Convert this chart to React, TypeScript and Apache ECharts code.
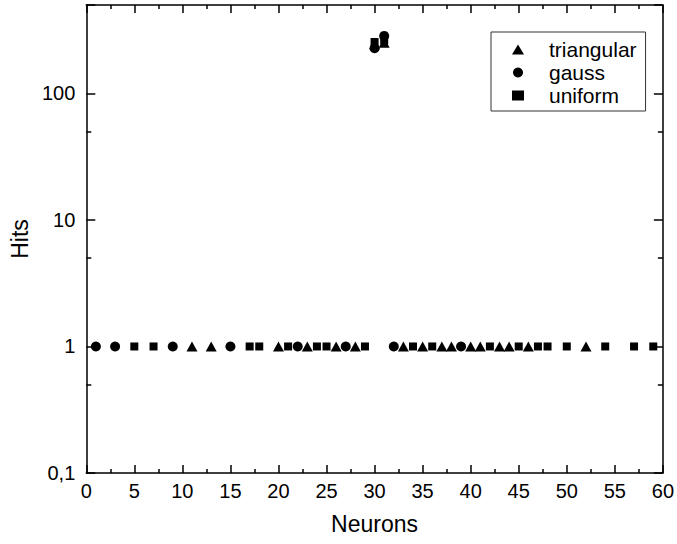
import React, { useEffect, useRef } from "react";
import * as echarts from "echarts";

// Neuron index (x) and hits (y) for each series
const triangularX = [11, 13, 20, 23, 26, 28, 30, 31, 33, 35, 37, 38, 40, 41, 43, 44, 46, 52];
const triangularY = [1, 1, 1, 1, 1, 1, 245, 252, 1, 1, 1, 1, 1, 1, 1, 1, 1, 1];

const gaussX = [1, 3, 9, 15, 22, 27, 30, 31, 32, 39];
const gaussY = [1, 1, 1, 1, 1, 1, 228, 285, 1, 1];

const uniformX = [5, 7, 17, 18, 21, 24, 25, 29, 30, 31, 34, 36, 42, 45, 47, 48, 50, 54, 57, 59];
const uniformY = [1, 1, 1, 1, 1, 1, 1, 1, 255, 262, 1, 1, 1, 1, 1, 1, 1, 1, 1, 1];

const seriesNames = ["triangular", "gauss", "uniform"];
const yMin = 0.1;
const yMax = 500;
const yMinorTicks = [0.5, 5, 50];

const FONT = "'Liberation Sans', Arial, sans-serif";

function pairs(xs: number[], ys: number[]) {
  return xs.map((x, i) => [x, ys[i]]);
}

function fmtLog(v: number) {
  const l = Math.log10(v);
  if (Math.abs(l - Math.round(l)) > 1e-6) return "";
  const r = Number(v.toPrecision(6));
  return String(r).replace(".", ",");
}

export default function App() {
  const ref = useRef<HTMLDivElement>(null);
  useEffect(() => {
    if (!ref.current) return;
    const chart = echarts.init(ref.current, undefined, { renderer: "svg" });
    const lineStyle = { color: "#000", width: 1.5 };
    const minorValues = yMinorTicks.map((v) => Math.log10(v));
    const option: any = {
      animation: false,
      backgroundColor: "#fff",
      textStyle: { fontFamily: FONT, color: "#000" },
      grid: { left: 83, right: 11, top: 5, bottom: 71, containLabel: false },
      legend: {
        orient: "vertical",
        left: 491,
        top: 32,
        padding: [7, 9, 5, 21],
        itemWidth: 12,
        itemHeight: 10,
        itemGap: 2,
        borderColor: "#333",
        borderWidth: 1,
        itemStyle: { opacity: 1 },
        textStyle: {
          fontFamily: FONT,
          fontSize: 21,
          color: "#000",
          lineHeight: 21,
          padding: [0, 0, 0, 20],
        },
        data: [
          { name: seriesNames[0], icon: "triangle" },
          { name: seriesNames[1], icon: "circle" },
          { name: seriesNames[2], icon: "rect" },
        ],
      },
      xAxis: [
        {
          type: "value",
          position: "bottom",
          min: 0,
          max: 60,
          interval: 5,
          name: "Neurons",
          nameLocation: "middle",
          nameGap: 39,
          nameTextStyle: { fontFamily: FONT, fontSize: 23, color: "#000" },
          axisLine: { show: true, onZero: false, lineStyle },
          axisTick: { show: true, inside: true, length: 8, lineStyle },
          minorTick: { show: true, splitNumber: 2, length: 4, lineStyle },
          axisLabel: { show: true, margin: 8, fontSize: 20, color: "#000", fontFamily: FONT },
          splitLine: { show: false },
        },
        {
          type: "value",
          position: "top",
          min: 0,
          max: 60,
          interval: 5,
          axisLine: { show: true, onZero: false, lineStyle },
          axisTick: { show: true, inside: true, length: 8, lineStyle },
          minorTick: { show: true, splitNumber: 2, length: 4, lineStyle },
          axisLabel: { show: false },
          splitLine: { show: false },
        },
      ],
      yAxis: [
        {
          type: "log",
          logBase: 10,
          position: "left",
          min: yMin,
          max: yMax,
          name: "Hits",
          nameLocation: "middle",
          nameGap: 48,
          nameRotate: 90,
          nameTextStyle: { fontFamily: FONT, fontSize: 23, color: "#000" },
          axisLine: { show: true, onZero: false, lineStyle },
          axisTick: { show: true, inside: true, length: 9, lineStyle },
          axisLabel: {
            show: true,
            margin: 11,
            fontSize: 20,
            color: "#000",
            fontFamily: FONT,
            formatter: (v: number) => fmtLog(v),
          },
          splitLine: { show: false },
        },
        {
          type: "log",
          logBase: 10,
          position: "right",
          min: yMin,
          max: yMax,
          axisLine: { show: true, onZero: false, lineStyle },
          axisTick: { show: true, inside: true, length: 9, lineStyle },
          axisLabel: { show: false },
          splitLine: { show: false },
        },
        {
          type: "value",
          position: "left",
          min: Math.log10(yMin),
          max: Math.log10(yMax),
          axisLine: { show: false, onZero: false },
          axisTick: { show: true, inside: true, length: 5, lineStyle, customValues: minorValues },
          axisLabel: { show: false },
          splitLine: { show: false },
        },
        {
          type: "value",
          position: "right",
          min: Math.log10(yMin),
          max: Math.log10(yMax),
          axisLine: { show: false, onZero: false },
          axisTick: { show: true, inside: true, length: 5, lineStyle, customValues: minorValues },
          axisLabel: { show: false },
          splitLine: { show: false },
        },
      ],
      series: [
        {
          name: seriesNames[0],
          type: "scatter",
          symbol: "triangle",
          symbolSize: [11, 10],
          itemStyle: { color: "#000", opacity: 1 },
          data: pairs(triangularX, triangularY),
        },
        {
          name: seriesNames[1],
          type: "scatter",
          symbol: "circle",
          symbolSize: 10,
          itemStyle: { color: "#000", opacity: 1 },
          data: pairs(gaussX, gaussY),
        },
        {
          name: seriesNames[2],
          type: "scatter",
          symbol: "rect",
          symbolSize: 8,
          itemStyle: { color: "#000", opacity: 1 },
          data: pairs(uniformX, uniformY),
        },
      ],
    };
    chart.setOption(option);
    return () => chart.dispose();
  }, []);
  return (
    <div
      ref={ref}
      style={{ position: "absolute", left: 0, top: 0, width: 677, height: 544, background: "#fff" }}
    />
  );
}
